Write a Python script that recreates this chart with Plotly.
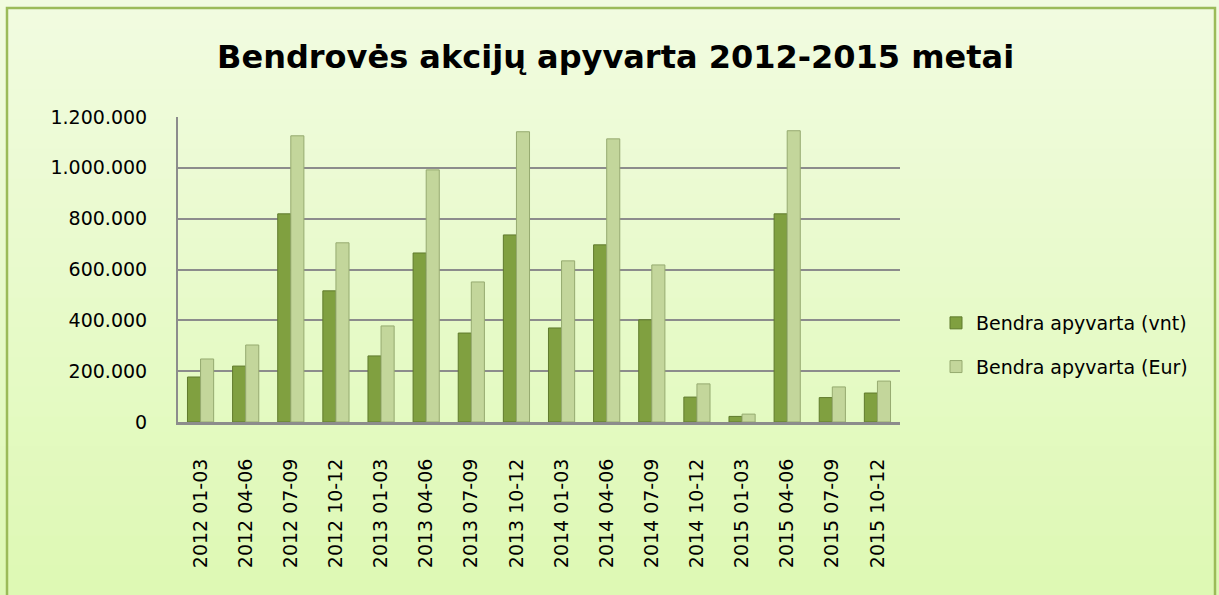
import plotly.graph_objects as go

categories = ["2012 01-03", "2012 04-06", "2012 07-09", "2012 10-12",
              "2013 01-03", "2013 04-06", "2013 07-09", "2013 10-12",
              "2014 01-03", "2014 04-06", "2014 07-09", "2014 10-12",
              "2015 01-03", "2015 04-06", "2015 07-09", "2015 10-12"]
vnt = [177000, 220000, 819000, 516000, 260000, 665000, 350000, 736000,
       370000, 697000, 402000, 98000, 22000, 819000, 96000, 114000]
eur = [248000, 303000, 1126000, 705000, 378000, 992000, 551000, 1142000,
       634000, 1114000, 618000, 150000, 31000, 1146000, 138000, 161000]
series_names = ["Bendra apyvarta (vnt)", "Bendra apyvarta (Eur)"]
y_ticks = [0, 200000, 400000, 600000, 800000, 1000000, 1200000]
y_tick_labels = ["0", "200.000", "400.000", "600.000", "800.000", "1.000.000", "1.200.000"]

W, H = 1219, 595
L, R, T, B = 178, 319, 117, 173
PW, PH = W - L - R, H - T - B

def px_x(x):
    return (x - L) / PW

def px_y(y):
    return (H - B - y) / PH

fig = go.Figure()
fig.add_trace(go.Bar(x=categories, y=vnt, name=series_names[0], legendgroup="g1",
                     marker=dict(color="#80a040", line=dict(color="#5f7a2c", width=1))))
fig.add_trace(go.Bar(x=categories, y=eur, name=series_names[1], legendgroup="g2",
                     marker=dict(color="#c3d69b", line=dict(color="#96aa70", width=1))))

# background gradient bands (paper coords)
shapes = []
n = 40
top = (241, 251, 224)
bot = (222, 249, 180)
for i in range(n):
    f = i / (n - 1)
    c = tuple(int(round(top[k] + (bot[k] - top[k]) * f)) for k in range(3))
    ya = i * H / n
    yb = (i + 1) * H / n + 1
    shapes.append(dict(type="rect", xref="paper", yref="paper",
                       x0=px_x(0), x1=px_x(W), y0=px_y(yb), y1=px_y(ya),
                       fillcolor="rgb(%d,%d,%d)" % c,
                       line=dict(width=0), layer="below"))
# outer green border
shapes.append(dict(type="rect", xref="paper", yref="paper",
                   x0=px_x(7), x1=px_x(1215), y0=px_y(H + 20), y1=px_y(8),
                   line=dict(color="#9bbb59", width=2.5), fillcolor="rgba(0,0,0,0)", layer="below"))

fig.update_layout(
    width=W, height=H,
    margin=dict(l=L, r=R, t=T, b=B),
    paper_bgcolor="#e8fbcc",
    plot_bgcolor="rgba(0,0,0,0)",
    separators=",.",
    barmode="group",
    bargap=0.42,
    bargroupgap=0.0,
    shapes=shapes,
    title=dict(text="<b>Bendrovės akcijų apyvarta 2012-2015 metai</b>",
               x=0.505, xanchor="center", y=1 - 57 / H, yanchor="middle",
               font=dict(family="DejaVu Sans, sans-serif", size=32, color="#000000")),
    legend=dict(x=px_x(936), y=px_y(345), xanchor="left", yanchor="middle",
                font=dict(family="DejaVu Sans, sans-serif", size=19, color="#000000"),
                bgcolor="rgba(0,0,0,0)", tracegroupgap=16, itemwidth=30),
    font=dict(family="DejaVu Sans, sans-serif", color="#000000"),
)
fig.update_xaxes(tickangle=-90, tickfont=dict(size=19, family="DejaVu Sans, sans-serif"),
                 showline=True, linecolor="#8c8c8c", linewidth=3, ticks="", ticklen=0,
                 ticklabelstandoff=26)
fig.update_yaxes(range=[0, 1200000], tickvals=y_ticks, ticktext=y_tick_labels,
                 tickfont=dict(size=19, family="DejaVu Sans, sans-serif"),
                 showgrid=True, gridcolor="#8c8c8c", gridwidth=2,
                 showline=True, linecolor="#8c8c8c", linewidth=2, ticks="", zeroline=False,
                 ticklabelstandoff=25)

fig.write_html("out.html", config={"displayModeBar": False},
               post_script="document.body.style.margin='0';document.body.style.overflow='hidden';")
